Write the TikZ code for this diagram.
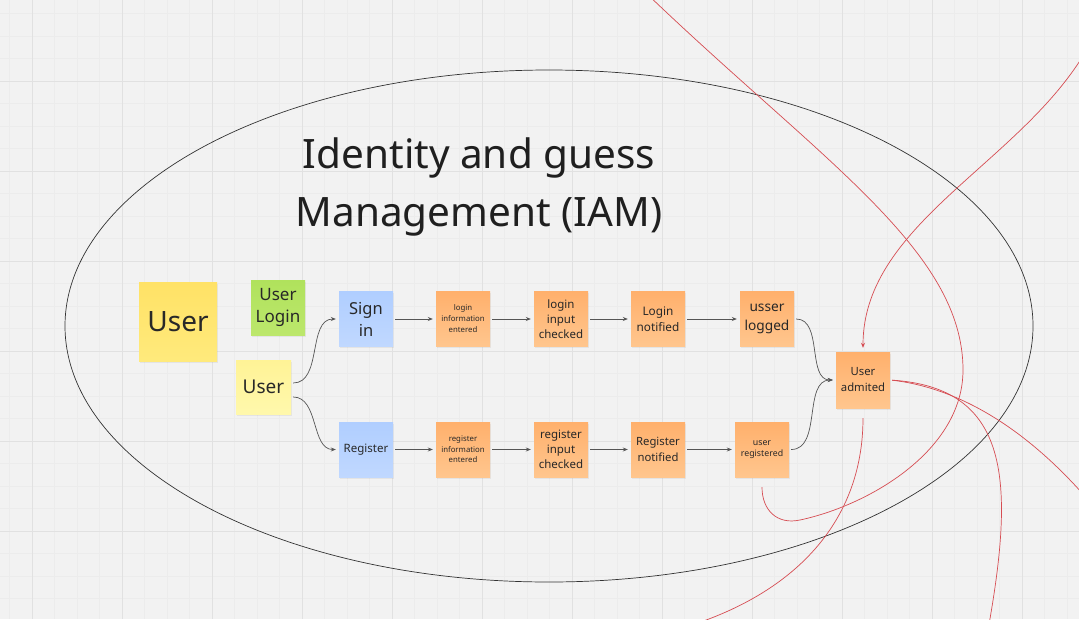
\documentclass[tikz,border=0pt]{standalone}
\usepackage{fontspec}
\setmainfont{Noto Sans}
\usetikzlibrary{arrows.meta,shadows}

\definecolor{canvas}{RGB}{242,242,242}
\definecolor{gridminor}{RGB}{236,236,236}
\definecolor{gridmajor}{RGB}{225,225,225}
\definecolor{ink}{RGB}{40,40,40}
\definecolor{wire}{RGB}{85,85,85}
\definecolor{redink}{RGB}{214,76,82}
\definecolor{orangetop}{RGB}{255,176,108}
\definecolor{orangebot}{RGB}{255,198,142}
\definecolor{bluetop}{RGB}{176,206,255}
\definecolor{bluebot}{RGB}{192,216,255}
\definecolor{yellowtop}{RGB}{255,226,102}
\definecolor{yellowbot}{RGB}{255,234,124}
\definecolor{paletop}{RGB}{255,243,150}
\definecolor{palebot}{RGB}{255,248,172}
\definecolor{greentop}{RGB}{176,226,92}
\definecolor{greenbot}{RGB}{188,231,108}

\newcommand{\fsz}[2]{\fontsize{#1}{#2}\selectfont}

\tikzset{
  sticky/.style={minimum width=54pt, minimum height=55pt, inner sep=1pt,
    align=center, text=ink,
    drop shadow={shadow xshift=1pt, shadow yshift=-1.5pt, opacity=0.12}},
  orangenote/.style={sticky, top color=orangetop, bottom color=orangebot},
  bluenote/.style={sticky, top color=bluetop, bottom color=bluebot},
  flow/.style={draw=wire, line width=0.7pt, shorten <=2pt, shorten >=3pt,
    -{Stealth[length=5pt,width=4pt]}},
  redline/.style={draw=redink, line width=0.7pt},
}

\begin{document}
\begin{tikzpicture}[x=1pt, y=-1pt]
    % --- canvas and grid (1 unit = 1 pixel of the board) ---
    \useasboundingbox (0,0) rectangle (1079,619);
    \fill[canvas] (0,0) rectangle (1079,619);
    \clip (0,0) rectangle (1079,619);
    \foreach \k in {0,...,47}{
      \draw[gridminor, line width=1pt] (9.5+22.5*\k,0) -- (9.5+22.5*\k,619);
    }
    \foreach \k in {0,...,27}{
      \draw[gridminor, line width=1pt] (0,13.5+22.5*\k) -- (1079,13.5+22.5*\k);
    }
    \foreach \k in {0,...,11}{
      \draw[gridmajor, line width=1pt] (32+90*\k,0) -- (32+90*\k,619);
    }
    \foreach \k in {0,...,5}{
      \draw[gridmajor, line width=1pt] (0,81+90*\k) -- (1079,81+90*\k);
    }

    % --- boundary and title ---
    \draw[black!80, line width=0.7pt] (549,326) ellipse [x radius=484, y radius=256];
    \node[text=black!88, font=\fsz{40.5}{58}, align=center] (title) at (479,186.5)
      {Identity and guess\\Management (IAM)};

    % --- actors and commands ---
    \node[sticky, minimum width=78pt, minimum height=79pt, top color=yellowtop,
      bottom color=yellowbot, font=\fsz{28}{34}] (bigUser) at (178,321.5) {User};
    \node[sticky, top color=greentop, bottom color=greenbot, font=\fsz{17}{22}]
      (userLogin) at (278,307.5) {User\\Login};
    \node[sticky, minimum width=55pt, minimum height=54pt, top color=paletop,
      bottom color=palebot, font=\fsz{19}{23}] (user) at (263.5,387) {User};
    \node[bluenote, font=\fsz{16.5}{22}] (signIn) at (366,319) {Sign\\in};
    \node[bluenote, font=\fsz{11.5}{14}] (register) at (366,449.5) {Register};

    % --- events: (name, x, y, font size, line skip, text) ---
    \foreach \n/\x/\y/\s/\b/\t in {%
      loginInfo/463/319/7.8/11/{login\\information\\entered},
      regInfo/463/449.5/7.8/10.5/{register\\information\\entered},
      loginCheck/561/319/11.5/15/{login\\input\\checked},
      regCheck/561/449.5/11.5/15/{register\\input\\checked},
      loginNotif/658/319/11.8/16/{Login\\notified},
      regNotif/658/449.5/11.3/15.5/{Register\\notified},
      usserLogged/767/319/13.7/18.5/{usser\\logged},
      userReg/762/449.5/8.8/11/{user\\registered}}{
      \node[orangenote, font=\fsz{\s}{\b}] (\n) at (\x,\y) {\t};
    }
    \node[orangenote, minimum height=56pt, font=\fsz{11.3}{16}] (admit) at (863,380)
      {User\\admited};

    % --- connectors ---
    \draw[flow] ([yshift=4pt]user.east) to[out=0, in=180] (signIn.west);
    \draw[flow] ([yshift=-10pt]user.east) to[out=0, in=180] (register.west);
    \draw[flow] (signIn) -- (loginInfo);
    \draw[flow] (loginInfo) -- (loginCheck);
    \draw[flow] (loginCheck) -- (loginNotif);
    \draw[flow] (loginNotif) -- (usserLogged);
    \draw[flow] (register) -- (regInfo);
    \draw[flow] (regInfo) -- (regCheck);
    \draw[flow] (regCheck) -- (regNotif);
    \draw[flow] (regNotif) -- (userReg);
    \draw[flow] (usserLogged.east) to[out=0, in=180] (admit.west);
    \draw[flow] (userReg.east) to[out=0, in=180] (admit.west);

    % red strokes drawn over the board
    \coordinate (redA) at (645,-8);
    \coordinate (redB) at (1092,40);
    \coordinate (redC) at (668,632);
    \coordinate (redD) at (1095,508);
    \coordinate (redE) at (988,630);
    \draw[redline, shorten >=10pt] (redA) .. controls (820,160) and (963,250) .. (963,370)
      .. controls (963,450) and (870,505) .. (800,520)
      .. controls (777,525) and (762,510) .. (userReg.south);
    \draw[redline, shorten >=4pt, -{Stealth[length=5pt,width=4pt]}]
      (redB) .. controls (1030,160) and (863,220) .. (admit.north);
    \draw[redline, shorten <=10pt] (admit.south) .. controls (863,525) and (790,600) .. (redC);
    \draw[redline, shorten <=2pt] (admit.east) .. controls (960,388) and (1030,430) .. (redD);
    \draw[redline, shorten <=2pt] (admit.east) .. controls (1010,388) and (1015,480) .. (redE);
  \end{tikzpicture}
\end{document}
